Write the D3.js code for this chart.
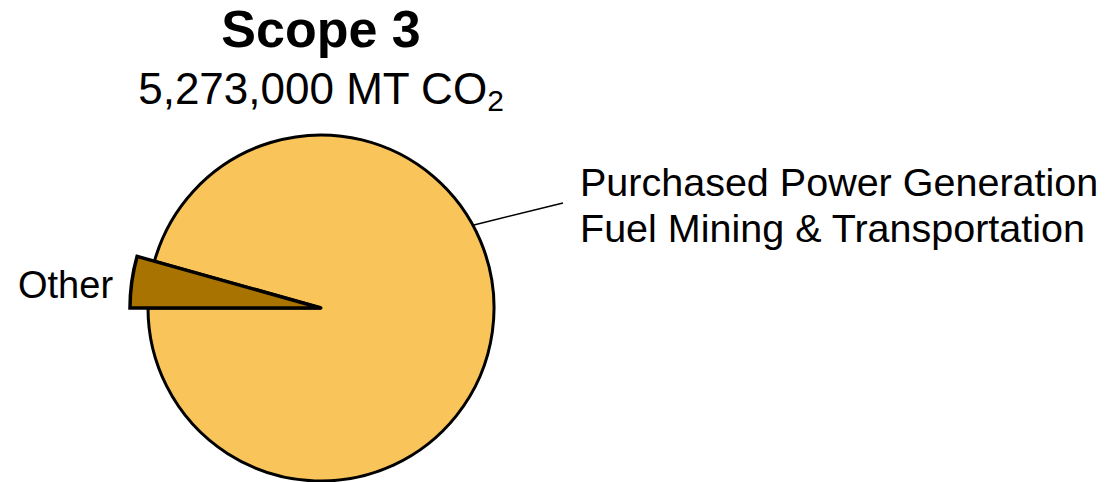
<!DOCTYPE html>
<html>
<head>
<meta charset="utf-8">
<script src="https://cdn.jsdelivr.net/npm/d3@7"></script>
<style>
  body { margin: 0; background: #fff; }
  text { font-family: "Liberation Sans", Arial, sans-serif; fill: #000; }
</style>
</head>
<body>
<svg id="chart"></svg>
<script>
const categories = ['Other', 'Purchased Power Generation Fuel Mining & Transportation'],
values = [230000, 5043000],
labelLines = [['Other'], ['Purchased Power Generation', 'Fuel Mining & Transportation']],
colors = ['#A87300', '#F9C55B'],
width = 1114,
height = 482;

const cx = 321, cy = 308, r = 173;

const svg = d3.select('#chart')
  .attr('width', width)
  .attr('height', height);

// title
svg.append('text')
  .attr('x', cx)
  .attr('y', 47)
  .attr('text-anchor', 'middle')
  .style('font-size', '52px')
  .style('font-weight', 'bold')
  .text('Scope 3');

const sub = svg.append('text')
  .attr('x', cx)
  .attr('y', 104)
  .attr('text-anchor', 'middle')
  .style('font-size', '44px');
sub.append('tspan').text('5,273,000 MT CO');
sub.append('tspan')
  .attr('dy', 7)
  .style('font-size', '30px')
  .text('2');

const pie = d3.pie()
  .sort(null)
  .startAngle(Math.PI * 1.5)
  .endAngle(Math.PI * 3.5);

const arcs = pie(values);

const arcMain = d3.arc().innerRadius(0).outerRadius(r);
const arcOther = d3.arc().innerRadius(0).outerRadius(r + 18);

const g = svg.append('g')
  .attr('transform', `translate(${cx},${cy})`);

// main slice first, exploded "Other" slice on top
g.append('path')
  .datum(arcs[1])
  .attr('d', arcMain)
  .attr('fill', colors[1])
  .attr('stroke', '#000')
  .attr('stroke-width', 3)
  .attr('stroke-linejoin', 'round');

g.append('path')
  .datum(arcs[0])
  .attr('d', arcOther)
  .attr('fill', colors[0])
  .attr('stroke', '#000')
  .attr('stroke-width', 3.5)
  .attr('stroke-linejoin', 'miter');

// leader line for the big slice
const leadAngle = 61.5 * Math.PI / 180;
const p0 = [Math.sin(leadAngle) * (r + 1), -Math.cos(leadAngle) * (r + 1)];
g.append('line')
  .attr('x1', p0[0])
  .attr('y1', p0[1])
  .attr('x2', 242)
  .attr('y2', -105)
  .attr('stroke', '#000')
  .attr('stroke-width', 1.5);

const bigLabel = svg.append('text')
  .attr('x', 580)
  .attr('y', 196)
  .style('font-size', '39.5px');
bigLabel.selectAll('tspan')
  .data(labelLines[1])
  .enter().append('tspan')
  .attr('x', 580)
  .attr('dy', (d, i) => i === 0 ? 0 : 46)
  .text(d => d);

svg.append('text')
  .attr('x', 18)
  .attr('y', 298)
  .style('font-size', '38px')
  .text(labelLines[0][0]);
</script>
</body>
</html>
